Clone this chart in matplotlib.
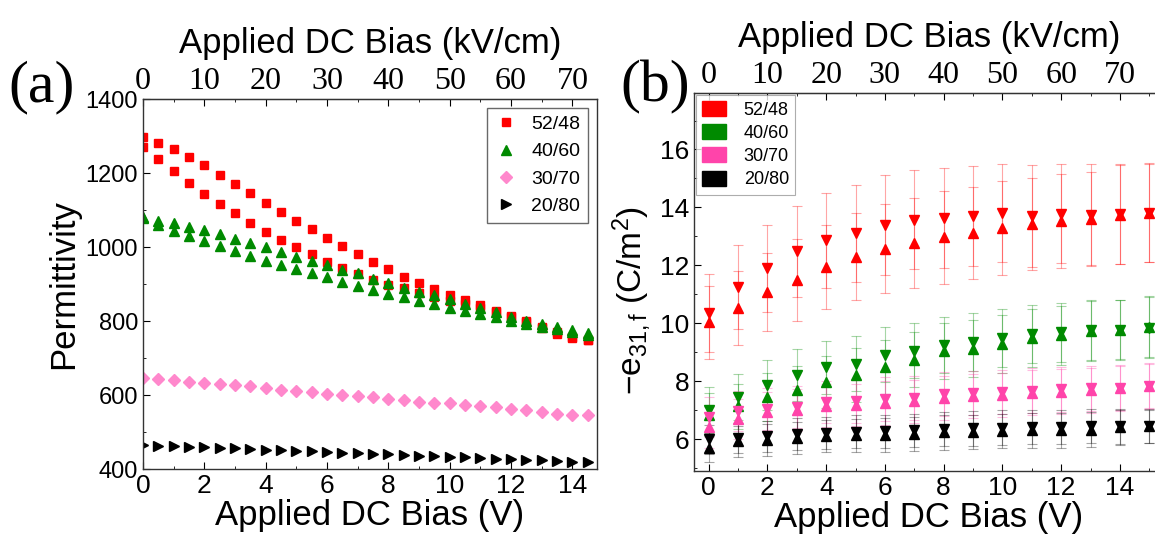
import numpy as np
import matplotlib
matplotlib.use("Agg")
import matplotlib.pyplot as plt
from matplotlib.patches import Patch
from matplotlib.ticker import MultipleLocator

plt.rcParams['font.family'] = ['Liberation Sans', 'DejaVu Sans']
plt.rcParams['mathtext.fontset'] = 'custom'
plt.rcParams['mathtext.rm'] = 'Liberation Sans'
plt.rcParams['mathtext.it'] = 'Liberation Sans'

# ---- (a) permittivity vs bias, 0.5 V steps ----
bias_a = [0, 0.5, 1, 1.5, 2, 2.5, 3, 3.5, 4, 4.5, 5, 5.5, 6, 6.5, 7, 7.5,
          8, 8.5, 9, 9.5, 10, 10.5, 11, 11.5, 12, 12.5, 13, 13.5, 14, 14.5, 15]
eps_52_up = [1298, 1282, 1264, 1244, 1222, 1195, 1171, 1145, 1119, 1095, 1071, 1048, 1025, 1003, 981, 960,
             941, 918, 902, 887, 871, 857, 842, 828, 814, 801, 780, 765, 755, 748, 742]
eps_52_dn = [1269, 1237, 1205, 1174, 1144, 1116, 1091, 1066, 1041, 1019, 999, 980, 960, 942, 926, 911,
             897, 888, 875, 865, 855, 845, 835, 823, 810, 797, 783, 770, 758, 750, 745]
eps_40_up = [1082, 1071, 1064, 1055, 1046, 1034, 1022, 1010, 999, 987, 974, 963, 951, 938, 929, 914,
             902, 888, 879, 870, 859, 846, 834, 825, 812, 801, 792, 783, 775, 767, 758]
eps_40_dn = [1078, 1059, 1043, 1030, 1017, 1003, 989, 976, 963, 951, 940, 929, 918, 906, 895, 884,
             873, 864, 855, 846, 834, 828, 819, 810, 801, 792, 785, 778, 770, 763, 755]
eps_30 = [646, 644, 641, 636, 632, 630, 627, 624, 618, 614, 611, 607, 603, 600, 597, 594,
          589, 586, 582, 579, 578, 573, 570, 567, 562, 559, 555, 550, 547, 545, 543]
eps_20 = [465, 463, 462, 460, 459, 457, 456, 454, 452, 451, 449, 448, 446, 444, 443, 441,
          440, 438, 436, 435, 433, 432, 430, 428, 427, 425, 424, 422, 420, 419, 417]

# ---- (b) e31,f vs bias, 1 V steps (down sweep / up sweep) ----
bias_b = [0, 1, 2, 3, 4, 5, 6, 7, 8, 9, 10, 11, 12, 13, 14, 15]
e31_52_dn = [10.36, 11.24, 11.9, 12.48, 12.87, 13.11, 13.4, 13.57, 13.64, 13.71, 13.8, 13.7, 13.78, 13.75, 13.77, 13.8]
e31_52_up = [10.04, 10.52, 11.08, 11.49, 11.95, 12.3, 12.58, 12.77, 12.97, 13.11, 13.29, 13.43, 13.52, 13.6, 13.75, 13.82]
err_52_dn = [1.34, 1.45, 1.5, 1.57, 1.64, 1.67, 1.72, 1.71, 1.73, 1.73, 1.69, 1.77, 1.71, 1.74, 1.72, 1.7]
err_52_up = [1.26, 1.28, 1.34, 1.41, 1.45, 1.5, 1.54, 1.56, 1.6, 1.59, 1.62, 1.59, 1.62, 1.62, 1.71, 1.7]
e31_40_dn = [7.0, 7.45, 7.87, 8.22, 8.48, 8.61, 8.91, 9.06, 9.25, 9.36, 9.49, 9.62, 9.69, 9.76, 9.78, 9.85]
e31_40_up = [6.85, 7.13, 7.45, 7.68, 7.98, 8.21, 8.49, 8.74, 9.04, 9.12, 9.27, 9.48, 9.59, 9.74, 9.78, 9.88]
err_40_dn = [0.79, 0.8, 0.85, 0.9, 0.91, 0.94, 0.95, 0.95, 0.95, 1.0, 1.0, 1.0, 1.02, 1.03, 1.03, 1.05]
err_40_up = [0.75, 0.78, 0.82, 0.86, 0.9, 0.92, 0.94, 0.95, 0.96, 0.98, 1.0, 1.0, 1.02, 1.03, 1.04, 1.05]
e31_30_dn = [6.76, 6.97, 7.05, 7.12, 7.28, 7.3, 7.38, 7.42, 7.55, 7.6, 7.63, 7.67, 7.72, 7.75, 7.78, 7.84]
e31_30_up = [6.41, 6.69, 6.92, 7.0, 7.15, 7.18, 7.25, 7.3, 7.42, 7.5, 7.53, 7.6, 7.64, 7.69, 7.75, 7.82]
err_30 = [0.7, 0.7, 0.72, 0.72, 0.74, 0.74, 0.75, 0.75, 0.76, 0.76, 0.77, 0.77, 0.78, 0.78, 0.78, 0.78]
e31_20_dn = [6.0, 6.05, 6.1, 6.17, 6.22, 6.26, 6.27, 6.3, 6.35, 6.37, 6.4, 6.42, 6.42, 6.45, 6.44, 6.46]
e31_20_up = [5.7, 5.92, 5.97, 6.03, 6.1, 6.14, 6.15, 6.18, 6.23, 6.25, 6.28, 6.3, 6.3, 6.33, 6.41, 6.44]
err_20 = [0.5, 0.52, 0.54, 0.55, 0.56, 0.57, 0.58, 0.58, 0.6, 0.6, 0.6, 0.6, 0.6, 0.6, 0.6, 0.58]

labels = ['52/48', '40/60', '30/70', '20/80']
RED, GREEN, PINK_A, PINK_B = '#ff0000', '#008a00', '#ff88cc', '#ff44aa'

fig = plt.figure(figsize=(11.55, 5.45), dpi=100)
W, H = 1155, 545


def axes_px(x0, y0, x1, y1):
    return fig.add_axes([x0 / W, 1 - y1 / H, (x1 - x0) / W, (y1 - y0) / H])


def style(ax):
    ax.tick_params(which='both', direction='in', labelsize=19)
    ax.tick_params(which='major', length=5)
    ax.tick_params(which='minor', length=2.5)
    for s in ax.spines.values():
        s.set_linewidth(1.0)
        s.set_color('#333333')


def top_axis(ax):
    sec = ax.secondary_xaxis('top', functions=(lambda v: v * 5, lambda k: k / 5))
    sec.xaxis.set_major_locator(MultipleLocator(10))
    sec.xaxis.set_minor_locator(MultipleLocator(5))
    sec.tick_params(which='both', direction='in', pad=2)
    sec.tick_params(which='major', length=5)
    sec.tick_params(which='minor', length=2.5)
    for t in sec.get_xticklabels():
        t.set_fontfamily('Liberation Serif')
        t.set_fontsize(23)
    sec.set_xlabel('Applied DC Bias (kV/cm)', fontsize=25, labelpad=10)
    return sec


# ---------------- panel (a) ----------------
ax1 = axes_px(143, 99, 597, 469)
ax1.plot(bias_a, eps_52_up, 's', color=RED, ms=6, mec=RED, label=labels[0])
ax1.plot(bias_a, eps_52_dn, 's', color=RED, ms=6, mec=RED)
ax1.plot(bias_a, eps_40_up, '^', color=GREEN, ms=7, mec=GREEN, label=labels[1])
ax1.plot(bias_a, eps_40_dn, '^', color=GREEN, ms=7, mec=GREEN)
ax1.plot(bias_a, eps_30, 'D', color=PINK_A, ms=6, mec=PINK_A, label=labels[2])
ax1.plot(bias_a, eps_20, '>', color='black', ms=6.5, mec='black', label=labels[3])
ax1.set_xlim(0, 14.8)
ax1.set_ylim(400, 1400)
ax1.xaxis.set_major_locator(MultipleLocator(2))
ax1.xaxis.set_minor_locator(MultipleLocator(1))
ax1.yaxis.set_major_locator(MultipleLocator(200))
ax1.yaxis.set_minor_locator(MultipleLocator(100))
style(ax1)
ax1.tick_params(axis='y', labelsize=17)
ax1.set_xlabel('Applied DC Bias (V)', fontsize=25, labelpad=1)
ax1.set_ylabel('Permittivity', fontsize=25, labelpad=4)
top_axis(ax1)
leg1 = ax1.legend(loc='upper right', fontsize=14, frameon=True, fancybox=False,
                  edgecolor='#444444', borderpad=0.4, labelspacing=0.5,
                  handlelength=1.2, handletextpad=0.7, borderaxespad=0.45)
leg1.get_frame().set_linewidth(1.0)
fig.text(8 / W, 1 - 101 / H, '(a)', fontsize=43, fontfamily='Liberation Serif', va='baseline')

# ---------------- panel (b) ----------------
ax2 = axes_px(694, 93, 1164, 471)
eb = dict(elinewidth=0.8, capsize=3.5, capthick=0.8, ls='none', ms=7.5)
series_b = [
    (e31_52_dn, err_52_dn, e31_52_up, err_52_up, RED),
    (e31_40_dn, err_40_dn, e31_40_up, err_40_up, GREEN),
    (e31_30_dn, err_30, e31_30_up, err_30, PINK_B),
    (e31_20_dn, err_20, e31_20_up, err_20, 'black'),
]
for dn, edn, up, eup, c in series_b:
    for vals, errs, mk in ((dn, edn, 'v'), (up, eup, '^')):
        m, caps, bars = ax2.errorbar(bias_b, vals, yerr=errs, fmt=mk, color=c, mec=c, **eb)
        for b in bars:
            b.set_alpha(0.35)
        for cp in caps:
            cp.set_alpha(0.35)
ax2.set_xlim(-0.5, 15.5)
ax2.set_ylim(4.9, 17.95)
ax2.xaxis.set_major_locator(MultipleLocator(2))
ax2.xaxis.set_minor_locator(MultipleLocator(1))
ax2.yaxis.set_major_locator(MultipleLocator(2))
ax2.yaxis.set_minor_locator(MultipleLocator(1))
style(ax2)
ax2.set_xlabel('Applied DC Bias (V)', fontsize=25, labelpad=1)
ax2.set_ylabel(r'$-$e$_{31,f}$ (C/m$^2$)', fontsize=24)
ax2.yaxis.set_label_coords(-0.088, 0.45)
top_axis(ax2)
handles = [Patch(facecolor=c, edgecolor=c) for c in (RED, GREEN, PINK_B, 'black')]
leg2 = ax2.legend(handles, labels, loc='upper left', fontsize=13, frameon=True, fancybox=False,
                  edgecolor='#999999', borderpad=0.35, labelspacing=0.3,
                  handlelength=1.3, handleheight=0.9, handletextpad=1.0, borderaxespad=0.1)
leg2.get_frame().set_linewidth(0.8)
fig.text(620 / W, 1 - 101 / H, '(b)', fontsize=43, fontfamily='Liberation Serif', va='baseline')

fig.savefig('out.png', dpi=100)
